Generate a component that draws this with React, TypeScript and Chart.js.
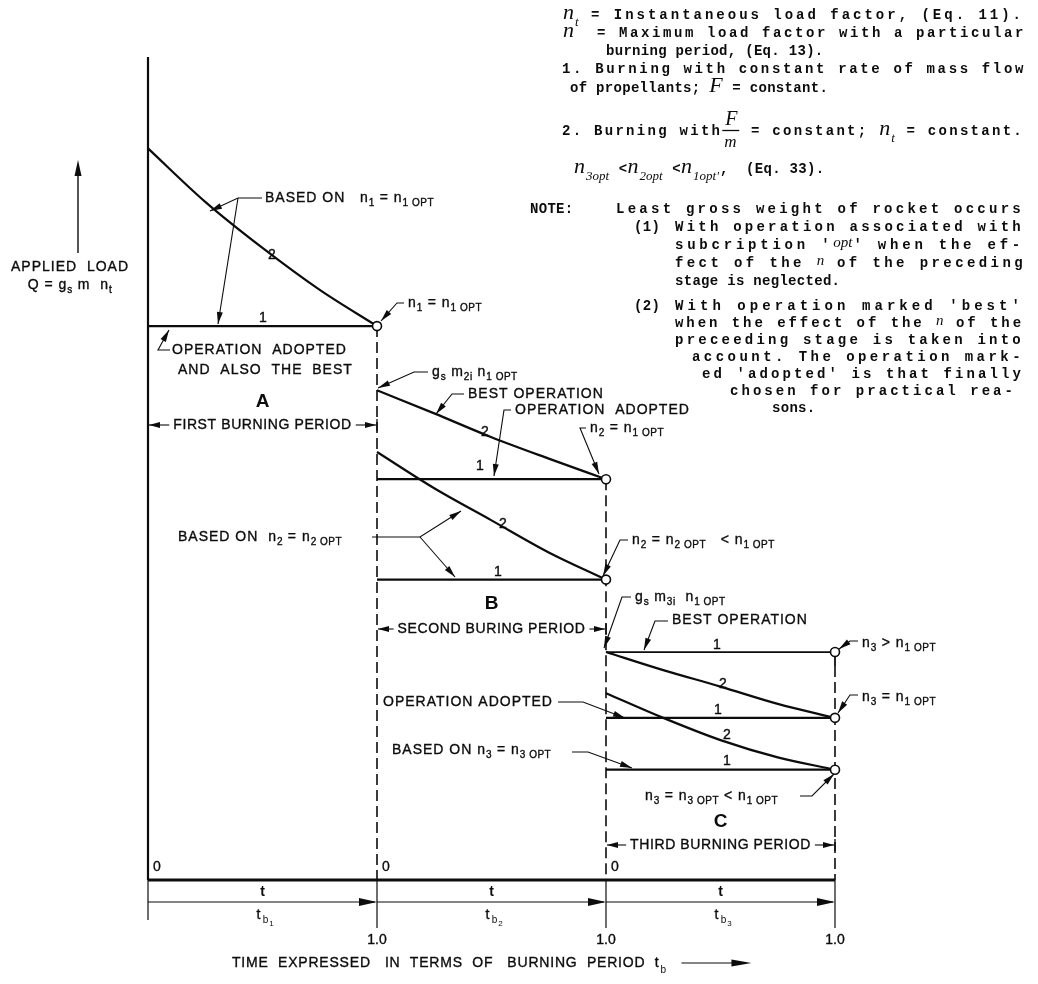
import React, { useEffect, useRef } from "react";
import { Chart, registerables } from "chart.js";
Chart.register(...registerables);

// ---------------- data ----------------
const periodStart = [0, 1, 2];
const tFrac = [0, 0.25, 0.5, 0.75, 1];
const curveA2 = [88.9, 82.4, 76.8, 71.7, 67.3];
const lineA1 = 67.3;
const curveB2best = [59.5, 56.7, 53.8, 51.2, 48.7];
const lineB1adopted = 48.7;
const curveB2opt = [52.0, 47.6, 43.7, 39.8, 36.5];
const lineB1opt = 36.5;
const lineC1best = 27.7;
const curveC2 = [27.7, 25.5, 23.5, 21.4, 19.7];
const lineC1adopted = 19.7;
const curveC2opt = [22.7, 19.7, 17.0, 14.9, 13.4];
const lineC1opt = 13.4;
const startTickLabels = ["0", "0", "0"];
const endTickLabels = ["1.0", "1.0", "1.0"];
const periodLetters = ["A", "B", "C"];
const periodTitles = ["FIRST BURNING PERIOD", "SECOND BURING PERIOD", "THIRD BURNING PERIOD"];
const periodSubs = ["1", "2", "3"];

// ---------------- helpers ----------------
const SANS = "'Liberation Sans', Arial, sans-serif";
const LET = `14px ${SANS}`;
const LET_SUB = `10px ${SANS}`;
const MONO = "bold 14px 'Liberation Mono', 'DejaVu Sans Mono', monospace";
const INK = "#0c0c0c";

const curve = (p: number, vals: number[]) => vals.map((v, i) => ({ x: p + tFrac[i], y: v }));
const flat = (p: number, v: number) => [{ x: p, y: v }, { x: p + 1, y: v }];

function setFont(ctx: any, f: string, ls = "0px") {
  ctx.font = f;
  ctx.letterSpacing = ls;
}

function heavyText(ctx: any, t: string, x: number, y: number) {
  ctx.fillText(t, x, y);
  ctx.lineWidth = 0.35;
  ctx.strokeText(t, x, y);
}

type Part = [string, number];
function rich(ctx: any, x: number, y: number, parts: Part[], size = 14, align = "left") {
  const big = `${size}px ${SANS}`;
  const small = `${Math.round(size * 0.72)}px ${SANS}`;
  let w = 0;
  for (const [t, s] of parts) {
    setFont(ctx, s ? small : big, s ? "0.5px" : "1px");
    w += ctx.measureText(t).width;
  }
  let cx = align === "center" ? x - w / 2 : x;
  ctx.textBaseline = "middle";
  ctx.textAlign = "left";
  for (const [t, s] of parts) {
    setFont(ctx, s ? small : big, s ? "0.5px" : "1px");
    heavyText(ctx, t, cx, s ? y + 5 : y);
    cx += ctx.measureText(t).width;
  }
  setFont(ctx, LET);
  return cx;
}

function arrowHead(ctx: any, x1: number, y1: number, x2: number, y2: number, len = 11, hw = 3) {
  const a = Math.atan2(y2 - y1, x2 - x1);
  ctx.beginPath();
  ctx.moveTo(x2, y2);
  ctx.lineTo(x2 - len * Math.cos(a) + hw * Math.sin(a), y2 - len * Math.sin(a) - hw * Math.cos(a));
  ctx.lineTo(x2 - len * Math.cos(a) - hw * Math.sin(a), y2 - len * Math.sin(a) + hw * Math.cos(a));
  ctx.closePath();
  ctx.fill();
}

function poly(ctx: any, pts: number[][], w = 1, dash: number[] = []) {
  ctx.lineWidth = w;
  ctx.setLineDash(dash);
  ctx.beginPath();
  ctx.moveTo(pts[0][0], pts[0][1]);
  for (let i = 1; i < pts.length; i++) ctx.lineTo(pts[i][0], pts[i][1]);
  ctx.stroke();
  ctx.setLineDash([]);
}

function leader(ctx: any, pts: number[][]) {
  poly(ctx, pts, 1.1);
  const n = pts.length;
  arrowHead(ctx, pts[n - 2][0], pts[n - 2][1], pts[n - 1][0], pts[n - 1][1], 12, 3);
}

// note segments
type Seg = { t: string; k: string };
const M = (t: string): Seg => ({ t, k: "m" });
const V = (t: string): Seg => ({ t, k: "v" });
const S = (t: string): Seg => ({ t, k: "s" });
const VI = (t: string): Seg => ({ t, k: "vi" });
const FR = (): Seg => ({ t: "F/m", k: "fr" });
const VF: Record<string, string> = {
  v: "italic 22px 'Liberation Serif', 'DejaVu Serif', serif",
  s: "italic 13px 'Liberation Serif', 'DejaVu Serif', serif",
  vi: "italic 15px 'Liberation Serif', 'DejaVu Serif', serif",
  fr: "italic 20px 'Liberation Serif', 'DejaVu Serif', serif",
};
const VOFF: Record<string, number> = { v: 0, s: 7, vi: -2 };

const NOTES: { x: number; y: number; r?: number; segs: Seg[] }[] = [
  { x: 563, y: 14, r: 1024, segs: [V("n"), S("t"), M(" = Instantaneous load factor, (Eq. 11).")] },
  { x: 563, y: 32, r: 1026, segs: [V("n"), M("  = Maximum load factor with a particular")] },
  { x: 606, y: 50, segs: [M("burning period, (Eq. 13).")] },
  { x: 562, y: 68, r: 1026, segs: [M("1. Burning with constant rate of mass flow")] },
  { x: 570, y: 87, segs: [M("of propellants; "), V("F"), M(" = constant.")] },
  { x: 562, y: 130, r: 1024, segs: [M("2. Burning with"), FR(), M(" = constant; "), V("n"), S("t"), M(" = constant.")] },
  { x: 574, y: 168, segs: [V("n"), S("3opt"), M(" <"), V("n"), S("2opt"), M(" <"), V("n"), S("1opt'"), M(",  (Eq. 33).")] },
  { x: 530, y: 208, segs: [M("NOTE:")] },
  { x: 616, y: 208, r: 1024, segs: [M("Least gross weight of rocket occurs")] },
  { x: 634, y: 226, segs: [M("(1)")] },
  { x: 675, y: 226, r: 1024, segs: [M("With operation associated with")] },
  { x: 675, y: 244, r: 1024, segs: [M("subcription '"), VI("opt"), M("' when the ef-")] },
  { x: 675, y: 262, r: 1026, segs: [M("fect of the "), VI("n"), M(" of the preceding")] },
  { x: 675, y: 280, segs: [M("stage is neglected.")] },
  { x: 634, y: 305, segs: [M("(2)")] },
  { x: 675, y: 305, r: 1024, segs: [M("With operation marked 'best'")] },
  { x: 675, y: 322, r: 1024, segs: [M("when the effect of the "), VI("n"), M(" of the")] },
  { x: 675, y: 339, r: 1024, segs: [M("preceeding stage is taken into")] },
  { x: 692, y: 356, r: 1024, segs: [M("account. The operation mark-")] },
  { x: 702, y: 373, r: 1024, segs: [M("ed 'adopted' is that finally")] },
  { x: 730, y: 390, r: 1016, segs: [M("chosen for practical rea-")] },
  { x: 772, y: 407, segs: [M("sons.")] },
];

function segWidth(ctx: any, s: Seg) {
  if (s.k === "fr") return 18;
  setFont(ctx, VF[s.k]);
  return ctx.measureText(s.t).width + 1;
}

function noteLine(ctx: any, line: { x: number; y: number; r?: number; segs: Seg[] }) {
  const base = line.y + 4.5;
  let nat = 0;
  let n = 0;
  for (const s of line.segs) {
    if (s.k === "m") {
      setFont(ctx, MONO);
      nat += ctx.measureText(s.t).width;
      n += s.t.length;
    } else nat += segWidth(ctx, s);
  }
  const ls = line.r ? Math.max(0, (line.r - line.x - nat) / n) : 0.3;
  let cx = line.x;
  ctx.textBaseline = "alphabetic";
  ctx.textAlign = "left";
  for (const s of line.segs) {
    if (s.k === "m") {
      setFont(ctx, MONO);
      const w = ctx.measureText(s.t).width;
      setFont(ctx, MONO, `${ls}px`);
      ctx.fillText(s.t, cx, base);
      cx += w + ls * s.t.length;
    } else if (s.k === "fr") {
      setFont(ctx, VF.fr);
      ctx.fillText("F", cx + 3, base - 10);
      setFont(ctx, VF.s.replace("13px", "17px"));
      ctx.fillText("m", cx + 2, base + 12);
      ctx.lineWidth = 1.3;
      ctx.beginPath();
      ctx.moveTo(cx, base - 4);
      ctx.lineTo(cx + 17, base - 4);
      ctx.stroke();
      cx += 18;
    } else {
      const w = segWidth(ctx, s);
      setFont(ctx, VF[s.k]);
      ctx.fillText(s.t, cx, base + VOFF[s.k]);
      cx += w;
    }
  }
  setFont(ctx, LET);
}

// lettering labels on the chart (pixel layout)
const LABELS: [number, number, Part[]][] = [
  [265, 198, [["BASED ON   n", 0], ["1", 1], [" = n", 0], ["1 OPT", 1]]],
  [172, 350, [["OPERATION  ADOPTED", 0]]],
  [178, 370, [["AND  ALSO  THE  BEST", 0]]],
  [408, 303, [["n", 0], ["1", 1], [" = n", 0], ["1 OPT", 1]]],
  [432, 372, [["g", 0], ["s", 1], [" m", 0], ["2i", 1], [" n", 0], ["1 OPT", 1]]],
  [468, 394, [["BEST OPERATION", 0]]],
  [515, 410, [["OPERATION  ADOPTED", 0]]],
  [590, 428, [["n", 0], ["2", 1], [" = n", 0], ["1 OPT", 1]]],
  [178, 537, [["BASED ON  n", 0], ["2", 1], [" = n", 0], ["2 OPT", 1]]],
  [632, 540, [["n", 0], ["2", 1], [" = n", 0], ["2 OPT", 1], ["   < n", 0], ["1 OPT", 1]]],
  [635, 597, [["g", 0], ["s", 1], [" m", 0], ["3i", 1], ["  n", 0], ["1 OPT", 1]]],
  [672, 620, [["BEST OPERATION", 0]]],
  [862, 643, [["n", 0], ["3", 1], [" > n", 0], ["1 OPT", 1]]],
  [862, 697, [["n", 0], ["3", 1], [" = n", 0], ["1 OPT", 1]]],
  [383, 702, [["OPERATION ADOPTED", 0]]],
  [392, 750, [["BASED ON n", 0], ["3", 1], [" = n", 0], ["3 OPT", 1]]],
  [645, 796, [["n", 0], ["3", 1], [" = n", 0], ["3 OPT", 1], [" < n", 0], ["1 OPT", 1]]],
];
const CURVE_TAGS: [string, number, number][] = [
  ["2", 272, 255], ["1", 263, 318], ["2", 485, 432], ["1", 480, 466], ["2", 503, 524],
  ["1", 498, 572], ["1", 717, 645], ["2", 723, 684], ["1", 718, 710], ["2", 727, 735], ["1", 727, 761],
];
const LEADERS: number[][][] = [
  [[262, 198], [238, 198], [210, 211]],
  [[238, 198], [218, 324]],
  [[170, 350], [158, 350], [169, 330]],
  [[404, 303], [397, 303], [381, 321]],
  [[428, 372], [414, 372], [378, 388]],
  [[464, 394], [452, 394], [436, 414]],
  [[511, 410], [504, 410], [494, 476]],
  [[586, 428], [580, 428], [599, 474]],
  [[372, 537], [420, 537], [461, 511]],
  [[420, 537], [455, 577]],
  [[628, 540], [620, 540], [603, 576]],
  [[631, 597], [622, 597], [604, 648]],
  [[668, 621], [655, 621], [644, 650]],
  [[858, 641], [850, 641], [839, 649]],
  [[858, 695], [850, 695], [838, 713]],
  [[558, 702], [583, 702], [625, 718]],
  [[572, 752], [588, 752], [632, 768]],
  [[800, 796], [812, 796], [834, 774]],
];
const PERIOD_ROW_Y = [425, 629, 845];
const PERIOD_LETTER_Y = [402, 604, 822];

const diagram = {
  id: "diagram",
  beforeDatasetsDraw(chart: any) {
    const ctx = chart.ctx;
    const X = (v: number) => chart.scales.x.getPixelForValue(v);
    const Y = (v: number) => chart.scales.y.getPixelForValue(v);
    ctx.save();
    ctx.strokeStyle = INK;
    ctx.fillStyle = INK;
    poly(ctx, [[X(0), Y(100)], [X(0), Y(0)]], 2.2);
    poly(ctx, [[X(0), Y(0)], [X(3), Y(0)]], 3);
    const tops = [lineA1, lineB1adopted, lineC1best];
    tops.forEach((top, i) => {
      const x = X(periodStart[i] + 1);
      if (i === 2) {
        poly(ctx, [[x, Y(top)], [x, Y(top) + 14]], 1.8);
        poly(ctx, [[x, Y(top) + 14], [x, Y(0)]], 1.6, [11, 5]);
      } else poly(ctx, [[x, Y(top)], [x, Y(0)]], 1.6, [11, 5]);
    });
    ctx.restore();
  },
  afterDraw(chart: any) {
    const ctx = chart.ctx;
    const X = (v: number) => chart.scales.x.getPixelForValue(v);
    const Y = (v: number) => chart.scales.y.getPixelForValue(v);
    const y0 = Y(0);
    ctx.save();
    ctx.strokeStyle = INK;
    ctx.fillStyle = INK;

    [0, 1, 2, 3].forEach((v) => poly(ctx, [[X(v), y0], [X(v), y0 + (v === 0 ? 40 : 48)]], 1.2));
    periodStart.forEach((p, i) => {
      const xa = X(p), xb = X(p + 1), cx = (xa + xb) / 2, ya = y0 + 22;
      poly(ctx, [[xa, ya], [xb - 2, ya]], 1.2);
      arrowHead(ctx, xa, ya, xb, ya, 18, 4);
      setFont(ctx, `bold 14px ${SANS}`);
      ctx.textAlign = "center";
      ctx.textBaseline = "middle";
      ctx.fillText("t", cx, ya - 10);
      setFont(ctx, LET);
      heavyText(ctx, "t", cx - 4, ya + 13);
      setFont(ctx, LET_SUB);
      ctx.fillText("b", cx + 3, ya + 18);
      setFont(ctx, `8px ${SANS}`);
      ctx.fillText(periodSubs[i], cx + 9, ya + 22);
      setFont(ctx, LET);
      ctx.textAlign = "left";
      heavyText(ctx, startTickLabels[i], xa + 5, y0 - 13);
      ctx.textAlign = "center";
      heavyText(ctx, endTickLabels[i], xb, y0 + 60);
      setFont(ctx, `bold 19px ${SANS}`);
      ctx.fillText(periodLetters[i], cx, PERIOD_LETTER_Y[i]);
      setFont(ctx, LET, "0.6px");
      const tw = ctx.measureText(periodTitles[i]).width;
      const ry = PERIOD_ROW_Y[i];
      heavyText(ctx, periodTitles[i], cx, ry);
      poly(ctx, [[cx - tw / 2 - 4, ry], [xa + 1, ry]], 1.1);
      arrowHead(ctx, cx, ry, xa + 1, ry, 11, 3);
      poly(ctx, [[cx + tw / 2 + 4, ry], [xb - 1, ry]], 1.1);
      arrowHead(ctx, cx, ry, xb - 1, ry, 11, 3);
      poly(ctx, [[xb, ry - 6], [xb, ry + 6]], 1.3);
    });

    setFont(ctx, LET, "0.8px");
    ctx.textAlign = "left";
    ctx.textBaseline = "middle";
    const tt = "TIME  EXPRESSED   IN  TERMS  OF   BURNING  PERIOD  t";
    heavyText(ctx, tt, 232, y0 + 83);
    const tw = ctx.measureText(tt).width;
    setFont(ctx, LET_SUB);
    ctx.fillText("b", 232 + tw + 1, y0 + 90);
    poly(ctx, [[232 + tw + 22, y0 + 83], [232 + tw + 80, y0 + 83]], 1.2);
    arrowHead(ctx, 0, y0 + 83, 232 + tw + 92, y0 + 83, 20, 3.5);

    poly(ctx, [[78, 253], [78, 170]], 1.4);
    arrowHead(ctx, 78, 253, 78, 160, 16, 3.5);
    rich(ctx, 70, 267, [["APPLIED  LOAD", 0]], 14, "center");
    rich(ctx, 70, 285, [["Q = g", 0], ["s", 1], [" m  n", 0], ["t", 1]], 14, "center");

    LABELS.forEach(([x, y, parts]) => rich(ctx, x, y, parts));
    CURVE_TAGS.forEach(([t, x, y]) => {
      setFont(ctx, LET);
      ctx.textAlign = "center";
      ctx.textBaseline = "middle";
      heavyText(ctx, t, x, y);
    });
    LEADERS.forEach((l) => leader(ctx, l));

    NOTES.forEach((l) => noteLine(ctx, l));
    ctx.restore();
  },
};

export default function App() {
  const ref = useRef<HTMLCanvasElement | null>(null);
  useEffect(() => {
    if (!ref.current) return;
    const lineStyle = { borderColor: INK, borderWidth: 2.2, pointRadius: 0, fill: false, order: 1, clip: false };
    const curveStyle = { ...lineStyle, tension: 0.4, cubicInterpolationMode: "monotone" };
    const endMarkers = [
      { x: periodStart[0] + 1, y: lineA1 },
      { x: periodStart[1] + 1, y: lineB1adopted },
      { x: periodStart[1] + 1, y: lineB1opt },
      { x: periodStart[2] + 1, y: lineC1best },
      { x: periodStart[2] + 1, y: lineC1adopted },
      { x: periodStart[2] + 1, y: lineC1opt },
    ];
    const chart = new Chart(ref.current, {
      type: "line",
      data: {
        datasets: [
          {
            data: endMarkers,
            showLine: false,
            pointRadius: 4.5,
            pointBorderWidth: 1.6,
            pointBackgroundColor: "#ffffff",
            pointBorderColor: INK,
            order: 0,
            clip: false,
          },
          { ...curveStyle, data: curve(periodStart[0], curveA2) },
          { ...lineStyle, data: flat(periodStart[0], lineA1) },
          { ...curveStyle, data: curve(periodStart[1], curveB2best) },
          { ...lineStyle, data: flat(periodStart[1], lineB1adopted) },
          { ...curveStyle, data: curve(periodStart[1], curveB2opt) },
          { ...lineStyle, data: flat(periodStart[1], lineB1opt) },
          { ...lineStyle, borderWidth: 1.7, data: flat(periodStart[2], lineC1best) },
          { ...curveStyle, data: curve(periodStart[2], curveC2) },
          { ...lineStyle, data: flat(periodStart[2], lineC1adopted) },
          { ...curveStyle, data: curve(periodStart[2], curveC2opt) },
          { ...lineStyle, data: flat(periodStart[2], lineC1opt) },
        ] as any,
      },
      options: {
        responsive: false,
        animation: false,
        devicePixelRatio: 1,
        events: [],
        layout: { padding: { left: 148, right: 203, top: 57, bottom: 104 } },
        scales: {
          x: { type: "linear", min: 0, max: 3, display: false },
          y: { type: "linear", min: 0, max: 100, display: false },
        },
        plugins: { legend: { display: false }, tooltip: { enabled: false } },
      } as any,
      plugins: [diagram],
    });
    return () => chart.destroy();
  }, []);
  return (
    <div style={{ position: "absolute", left: 0, top: 0, width: 1038, height: 984, background: "#fff" }}>
      <canvas ref={ref} width={1038} height={984} style={{ width: 1038, height: 984, display: "block" }} />
    </div>
  );
}
